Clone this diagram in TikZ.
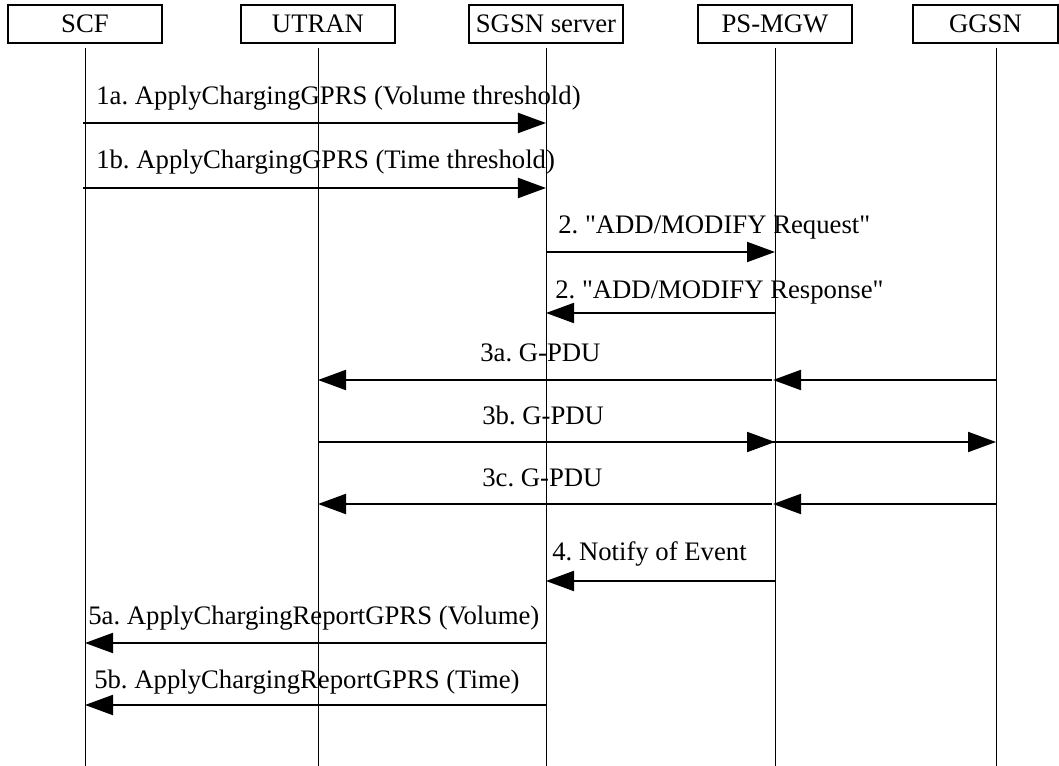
\documentclass[tikz,border=0pt]{standalone}
\usepackage{fontspec}
\setmainfont{Liberation Serif}
\usetikzlibrary{arrows.meta}
\frenchspacing

\begin{document}
\begin{tikzpicture}[x=0.025cm, y=-0.025cm,
  entitybox/.style={draw=black, line width=0.9pt, minimum width=3.85cm, minimum height=0.95cm, inner sep=0pt, font=\fontsize{19}{22}\selectfont},
  lifeline/.style={line width=0.6pt, shorten <=0.12cm},
  message/.style={line width=1.4pt, -{Triangle[length=0.7cm, width=0.5cm]}},
  msglabel/.style={anchor=base west, inner sep=0pt, font=\fontsize{19}{22}\selectfont}]
\useasboundingbox (0,0) rectangle (1059,766);
\node[entitybox] (SCF) at (85,24) {SCF};
\node[entitybox] (UTRAN) at (318,24) {UTRAN};
\node[entitybox] (SGSN) at (546,24) {SGSN server};
\node[entitybox] (PSMGW) at (775,24) {PS-MGW};
\node[entitybox, minimum width=3.625cm] (GGSN) at (985.5,24) {GGSN};
\coordinate (SCFend) at (85,766);
\coordinate (UTRANend) at (318,766);
\coordinate (SGSNend) at (546,766);
\coordinate (PSMGWend) at (775,766);
\coordinate (GGSNend) at (996,766);
\draw[lifeline] (SCF.south) -- (SCFend);
\draw[lifeline] (UTRAN.south) -- (UTRANend);
\draw[lifeline] (SGSN.south) -- (SGSNend);
\draw[lifeline] (PSMGW.south) -- (PSMGWend);
\draw[lifeline] (GGSN.south -| GGSNend) -- (GGSNend);
\coordinate (SCF1a) at (83,123);
\coordinate (SGSN1a) at (546,123);
\coordinate (SCF1b) at (83,188);
\coordinate (SGSN1b) at (546,188);
\coordinate (SGSN2q) at (546,252);
\coordinate (PSMGW2q) at (775,252);
\coordinate (SGSN2r) at (546,313);
\coordinate (PSMGW2r) at (775,313);
\coordinate (UTRAN3a) at (318,380);
\coordinate (PSMGW3a) at (775,380);
\coordinate (GGSN3a) at (996,380);
\coordinate (UTRAN3b) at (318,442);
\coordinate (PSMGW3b) at (775,442);
\coordinate (GGSN3b) at (996,442);
\coordinate (UTRAN3c) at (318,504);
\coordinate (PSMGW3c) at (775,504);
\coordinate (GGSN3c) at (996,504);
\coordinate (SGSN4) at (546,581);
\coordinate (PSMGW4) at (775,581);
\coordinate (SCF5a) at (85,643);
\coordinate (SGSN5a) at (546,643);
\coordinate (SCF5b) at (85,705);
\coordinate (SGSN5b) at (546,705);
\node[msglabel] (L1a) at (96,105) {1a. ApplyChargingGPRS (Volume threshold)};
\node[msglabel] (L1b) at (96,169) {1b. ApplyChargingGPRS (Time threshold)};
\node[msglabel] (L2q) at (558,234) {2. \textquotedbl ADD/MODIFY Request\textquotedbl};
\node[msglabel] (L2r) at (555,299) {2. \textquotedbl ADD/MODIFY Response\textquotedbl};
\node[msglabel] (L3a) at (480,362) {3a. G-PDU};
\node[msglabel] (L3b) at (482,425) {3b. G-PDU};
\node[msglabel] (L3c) at (482,487) {3c. G-PDU};
\node[msglabel] (L4) at (552,561) {4. Notify of Event};
\node[msglabel] (L5a) at (88,624) {5a. ApplyChargingReportGPRS (Volume)};
\node[msglabel] (L5b) at (94,688) {5b. ApplyChargingReportGPRS (Time)};
\draw[message] (SCF1a) -- (SGSN1a);
\draw[message] (SCF1b) -- (SGSN1b);
\draw[message] (SGSN2q) -- (PSMGW2q);
\draw[message] (PSMGW2r) -- (SGSN2r);
\draw[message, shorten <=0.08cm] (PSMGW3a) -- (UTRAN3a);
\draw[message, shorten >=-0.05cm] (GGSN3a) -- (PSMGW3a);
\draw[message] (UTRAN3b) -- (PSMGW3b);
\draw[message, shorten <=-0.1cm] (PSMGW3b) -- (GGSN3b);
\draw[message, shorten <=0.08cm] (PSMGW3c) -- (UTRAN3c);
\draw[message, shorten >=-0.05cm] (GGSN3c) -- (PSMGW3c);
\draw[message] (PSMGW4) -- (SGSN4);
\draw[message] (SGSN5a) -- (SCF5a);
\draw[message] (SGSN5b) -- (SCF5b);
\end{tikzpicture}
\end{document}
